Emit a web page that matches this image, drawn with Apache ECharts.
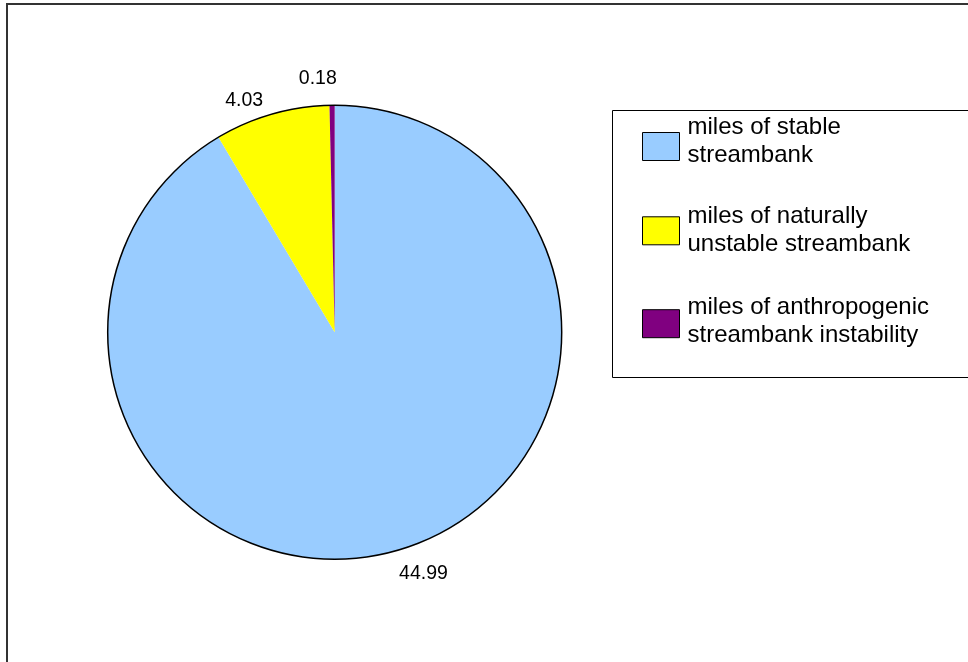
<!DOCTYPE html>
<html>
<head>
<meta charset="utf-8">
<title>Streambank stability</title>
<script src="https://cdn.jsdelivr.net/npm/echarts@6/dist/echarts.min.js"></script>
<style>
  html, body { margin: 0; padding: 0; background: #fff; }
  #chart { width: 968px; height: 662px; }
</style>
</head>
<body>
<div id="chart"></div>
<script>
// Streambank miles by stability class
const categories = [
  'miles of stable\nstreambank',
  'miles of naturally\nunstable streambank',
  'miles of anthropogenic\nstreambank instability'
];
const miles = [44.99, 4.03, 0.18];
const sliceColors = ['#99CCFF', '#FFFF00', '#800080'];

const FONT = '"Liberation Sans", Arial, Helvetica, sans-serif';
const CENTER = [334.7, 332.2];
const RADIUS = 227;

// per-slice label placement outside the rim
const labelLineLength = [23, 13.5, 27];
const labelGap = [-2, 5, -5];

// one legend block per entry so each can sit at its own height;
// a short spacer line under the text lifts it slightly above the swatch centre
const legendTops = [113, 202.8, 293.2];
const legendSpacer = [11, 0, 5];
const legends = categories.map((name, i) => ({
  data: [name],
  orient: 'vertical',
  left: 642,
  top: legendTops[i],
  padding: 0,
  itemWidth: 37,
  itemHeight: 28,
  icon: 'rect',
  selectedMode: false,
  itemStyle: { borderColor: '#000', borderWidth: 1 },
  formatter: n => {
    const lines = n.split('\n').map(s => '{t|' + s + '}');
    if (legendSpacer[i] > 0) lines.push('{g| }');
    return lines.join('\n');
  },
  textStyle: {
    fontFamily: FONT,
    fontSize: 24,
    lineHeight: 28,
    color: '#000',
    padding: [0, 0, 0, 3],
    rich: {
      t: { fontFamily: FONT, fontSize: 24, lineHeight: 28, color: '#000' },
      g: { fontSize: 1, lineHeight: legendSpacer[i] || 1 }
    }
  }
}));

const chart = echarts.init(document.getElementById('chart'), null, { renderer: 'canvas' });
chart.setOption({
  backgroundColor: '#fff',
  animation: false,
  graphic: [
    {
      type: 'rect',
      shape: { x: 7, y: 4, width: 1000, height: 700 },
      style: { fill: 'none', stroke: '#333', lineWidth: 2 },
      silent: true
    },
    {
      type: 'rect',
      shape: { x: 612.5, y: 110.5, width: 400, height: 267 },
      style: { fill: '#fff', stroke: '#000', lineWidth: 1 },
      silent: true,
      z: -1
    }
  ],
  legend: legends,
  series: [
    {
      type: 'pie',
      center: CENTER,
      radius: RADIUS,
      startAngle: 90,
      clockwise: true,
      avoidLabelOverlap: false,
      silent: true,
      itemStyle: { borderWidth: 0 },
      label: {
        show: true,
        position: 'outside',
        formatter: p => p.value.toFixed(2),
        fontFamily: FONT,
        fontSize: 19.5,
        color: '#000'
      },
      labelLine: { show: false, length2: 0 },
      emphasis: { disabled: true },
      data: categories.map((name, i) => ({
        name: name,
        value: miles[i],
        itemStyle: { color: sliceColors[i] },
        label: { distanceToLabelLine: labelGap[i] },
        labelLine: { length: labelLineLength[i] }
      }))
    },
    {
      // outer outline of the pie
      type: 'pie',
      center: CENTER,
      radius: RADIUS,
      silent: true,
      label: { show: false },
      labelLine: { show: false },
      emphasis: { disabled: true },
      itemStyle: { color: 'rgba(0,0,0,0)', borderColor: '#000', borderWidth: 1.5 },
      data: [{ name: 'outline', value: 1 }]
    }
  ]
});
</script>
</body>
</html>
